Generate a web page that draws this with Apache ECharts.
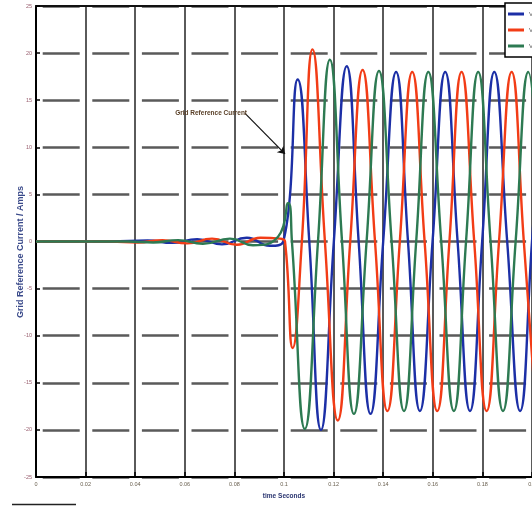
<!DOCTYPE html>
<html>
<head>
<meta charset="utf-8">
<script src="https://cdn.jsdelivr.net/npm/echarts@6/dist/echarts.min.js"></script>
<style>
html,body{margin:0;padding:0;background:#fff;}
#chart{width:532px;height:506px;}
</style>
</head>
<body>
<div id="chart"></div>
<script>
// ---- data ----
const seriesNames = ["Va*", "Vb*", "Vc*"];
const xTicks = [0, 0.02, 0.04, 0.06, 0.08, 0.1, 0.12, 0.14, 0.16, 0.18, 0.2];
const yTicks = [-25, -20, -15, -10, -5, 0, 5, 10, 15, 20, 25];
const yAxisTitle = "Grid Reference Current / Amps";
const xAxisTitle = "time Seconds";

const blueT = [0, 0.03, 0.045, 0.055, 0.065, 0.075, 0.085, 0.0943, 0.0997, 0.1055, 0.1102, 0.1149, 0.1201, 0.1253, 0.1301, 0.1349, 0.1400, 0.1452, 0.1500, 0.1548, 0.1599, 0.1650, 0.1700, 0.1750, 0.1799, 0.1848, 0.1900, 0.1952, 0.2000, 0.2048];
const blueV = [0, 0, 0.1, -0.15, 0.25, -0.3, 0.4, -0.45, 0, 17.2, 0, -20, 0, 18.6, 0, -18.3, 0, 18, 0, -18, 0, 18, 0, -18, 0, 18, 0, -18, 0, 18];

const redT = [0, 0.03, 0.041, 0.051, 0.061, 0.071, 0.081, 0.0905, 0.0985, 0.1004, 0.1035, 0.1072, 0.1115, 0.1165, 0.1217, 0.1267, 0.1317, 0.1367, 0.1417, 0.1467, 0.1517, 0.1567, 0.1618, 0.1667, 0.1716, 0.1767, 0.1817, 0.1867, 0.1918, 0.1967, 0.2016];
const redV = [0, 0, -0.1, 0.15, -0.2, 0.3, -0.35, 0.4, 0.3, 0, -11.3, 0, 20.4, 0, -19, 0, 18.2, 0, -18, 0, 18, 0, -18, 0, 18, 0, -18, 0, 18, 0, -18];

const greenT = [0, 0.037, 0.0473, 0.0573, 0.0673, 0.0782, 0.0875, 0.0976, 0.1017, 0.1032, 0.1084, 0.1137, 0.1185, 0.1234, 0.1282, 0.1333, 0.1383, 0.1434, 0.1484, 0.1533, 0.1582, 0.1634, 0.1685, 0.1734, 0.1783, 0.1833, 0.1883, 0.1934, 0.1985, 0.2035];
const greenV = [0, 0, -0.1, 0.15, -0.25, 0.3, -0.4, 0.5, 4.1, 0, -19.9, 0, 19.3, 0, -18.3, 0, 18.1, 0, -18, 0, 18, 0, -18, 0, 18, 0, -18, 0, 18, 0];

const annotationText = "Grid Reference Current";
const annotationFrom = [0.0843, 13.6];
const annotationTo = [0.1004, 9.3];
const annotationLabelAt = [0.0706, 13.6];

// ---- build ----
const zip = (t, v) => t.map((x, i) => [x, v[i]]);
const colors = ["#1c2fa6", "#f23c16", "#2d7a52"];
const chart = echarts.init(document.getElementById('chart'), null, {renderer: 'canvas'});

function mkSeries(name, t, v, color, extra) {
  return Object.assign({
    name: name,
    type: 'line',
    data: zip(t, v),
    smooth: 0.5,
    symbol: 'none',
    clip: true,
    lineStyle: {color: color, width: 2.4},
    itemStyle: {color: color},
    animation: false
  }, extra || {});
}

const option = {
  animation: false,
  backgroundColor: '#fff',
  grid: {left: 36, right: 0, top: 6, bottom: 29, containLabel: false, outerBoundsMode: 'none'},
  legend: {
    orient: 'vertical', left: 505, top: 3,
    padding: [8, 3, 8, 3], itemGap: 10,
    itemWidth: 16, itemHeight: 3, icon: 'rect',
    borderColor: '#000', borderWidth: 1.5,
    backgroundColor: '#fff',
    textStyle: {fontSize: 6, color: '#555', fontFamily: 'Liberation Sans'},
    data: seriesNames
  },
  xAxis: [{
    type: 'value', min: 0, max: 0.2, interval: 0.02,
    position: 'bottom',
    name: xAxisTitle, nameLocation: 'middle', nameGap: 16,
    nameTextStyle: {fontSize: 6.5, color: '#2a3570', fontWeight: 'bold', fontFamily: 'Liberation Sans Narrow, Liberation Sans'},
    axisLine: {show: true, onZero: false, lineStyle: {color: '#000', width: 2}},
    axisTick: {show: true, inside: true, length: 5, lineStyle: {color: '#000', width: 1.5}},
    axisLabel: {fontSize: 5.5, color: '#6a6050', margin: 4, fontFamily: 'Liberation Sans'},
    splitLine: {show: true, lineStyle: {color: '#5a5a5a', width: 2}}
  }, {
    type: 'value', min: 0, max: 0.2, interval: 0.02, position: 'top',
    axisLine: {show: true, onZero: false, lineStyle: {color: '#111', width: 2}},
    axisTick: {show: false}, axisLabel: {show: false}, splitLine: {show: false}
  }],
  yAxis: {
    type: 'value', min: -25, max: 25, interval: 5,
    axisLine: {show: true, onZero: false, lineStyle: {color: '#000', width: 2}},
    axisTick: {show: true, inside: true, length: 4, lineStyle: {color: '#000', width: 1.5}},
    axisLabel: {fontSize: 5.5, color: '#9a6070', margin: 4, fontFamily: 'Liberation Sans'},
    splitLine: {show: true, lineStyle: {color: '#5a5a5a', width: 2.5, type: [37, 12.6], dashOffset: 42.9}}
  },
  series: [
    mkSeries(seriesNames[0], blueT, blueV, colors[0], {
      markLine: {
        silent: true, symbol: ['none', 'arrow'], symbolSize: 7,
        label: {show: false},
        lineStyle: {color: '#111', width: 1.2, type: 'solid'},
        data: [[{coord: annotationFrom}, {coord: annotationTo}]]
      },
      markPoint: {
        silent: true, symbol: 'circle', symbolSize: 0,
        label: {show: true, position: 'inside', formatter: annotationText,
          fontSize: 6.5, color: '#5a4028', fontWeight: 'bold', fontFamily: 'Liberation Sans Narrow, Liberation Sans'},
        data: [{coord: annotationLabelAt}]
      }
    }),
    mkSeries(seriesNames[1], redT, redV, colors[1]),
    mkSeries(seriesNames[2], greenT, greenV, colors[2])
  ],
  graphic: [{
    type: 'line', shape: {x1: 12, y1: 504.5, x2: 76, y2: 504.5},
    style: {stroke: '#222', lineWidth: 1.5}
  }, {
    type: 'text', x: 21, y: 252, rotation: Math.PI / 2,
    style: {text: yAxisTitle, fill: '#3a4a8a', font: 'bold 9px "Liberation Sans"',
      align: 'center', verticalAlign: 'middle'}
  }]
};
chart.setOption(option);
</script>
</body>
</html>
